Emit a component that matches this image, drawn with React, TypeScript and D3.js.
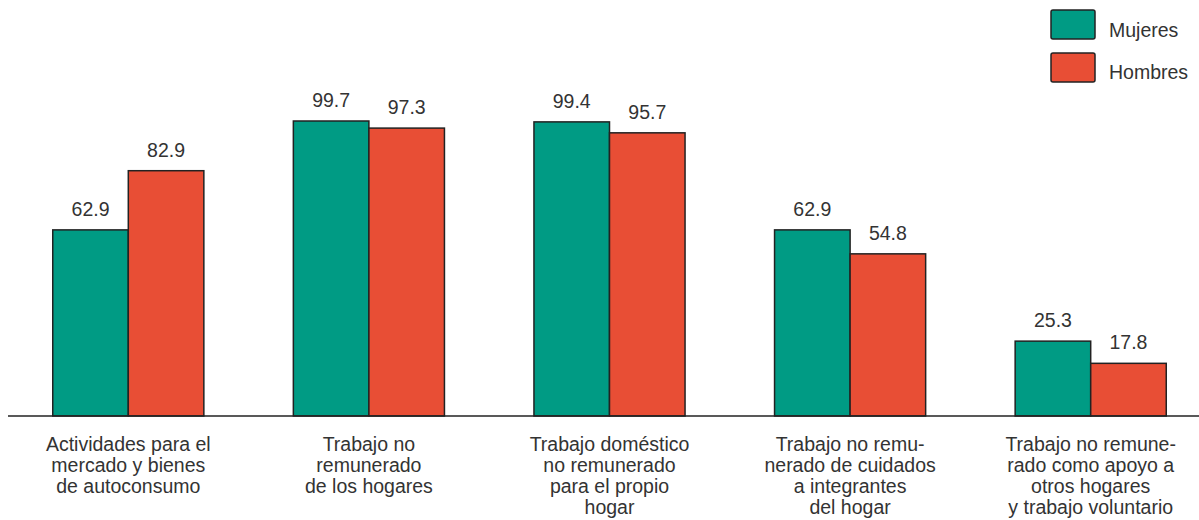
import React from "react";
import * as d3 from "d3";

const categories = [
  "Actividades para el mercado y bienes de autoconsumo",
  "Trabajo no remunerado de los hogares",
  "Trabajo doméstico no remunerado para el propio hogar",
  "Trabajo no remunerado de cuidados a integrantes del hogar",
  "Trabajo no remunerado como apoyo a otros hogares y trabajo voluntario",
];
const categoryLines = [
  ["Actividades para el", "mercado y bienes", "de autoconsumo"],
  ["Trabajo no", "remunerado", "de los hogares"],
  ["Trabajo doméstico", "no remunerado", "para el propio", "hogar"],
  ["Trabajo no remu-", "nerado de cuidados", "a integrantes", "del hogar"],
  ["Trabajo no remune-", "rado como apoyo a", "otros hogares", "y trabajo voluntario"],
];
const seriesNames = ["Mujeres", "Hombres"];
const mujeres = [62.9, 99.7, 99.4, 62.9, 25.3];
const hombres = [82.9, 97.3, 95.7, 54.8, 17.8];
const colors = ["#009B84", "#E84E35"];

const W = 1199;
const H = 520;
const baseY = 416;

export default function App() {
  const x = d3
    .scaleBand<string>()
    .domain(categories)
    .range([8, 1211])
    .paddingInner(0.372)
    .paddingOuter(0.186);
  const xs = d3.scaleBand<string>().domain(seriesNames).range([0, x.bandwidth()]);
  const y = d3.scaleLinear().domain([0, 99.7]).range([baseY, 121]);
  const series = [mujeres, hombres];
  const font = "'Liberation Sans', Arial, sans-serif";
  const textColor = "#333";
  const fs = 19.5;

  return (
    <svg
      width={W}
      height={H}
      style={{ position: "absolute", left: 0, top: 0, background: "#fff" }}
      fontFamily={font}
    >
      {categories.map((c, i) => (
        <g key={c}>
          {series.map((s, j) => {
            const bx = (x(c) ?? 0) + (xs(seriesNames[j]) ?? 0);
            const by = y(s[i]);
            return (
              <g key={j}>
                <rect
                  x={bx}
                  y={by}
                  width={xs.bandwidth()}
                  height={baseY - by}
                  fill={colors[j]}
                  stroke="#222"
                  strokeWidth={1.5}
                />
                <text
                  x={bx + xs.bandwidth() / 2}
                  y={by - 14}
                  textAnchor="middle"
                  fontSize={fs}
                  fill={textColor}
                >
                  {s[i].toFixed(1)}
                </text>
              </g>
            );
          })}
          {categoryLines[i].map((ln, k) => (
            <text
              key={k}
              x={(x(c) ?? 0) + x.bandwidth() / 2}
              y={451 + k * 21}
              textAnchor="middle"
              fontSize={fs}
              fill={textColor}
            >
              {ln}
            </text>
          ))}
        </g>
      ))}
      <line x1={8} x2={1199} y1={baseY} y2={baseY} stroke="#222" strokeWidth={1.5} />
      {seriesNames.map((n, j) => (
        <g key={n}>
          <rect
            x={1051}
            y={10 + j * 43}
            width={44}
            height={29}
            fill={colors[j]}
            stroke="#222"
            strokeWidth={1.5}
            rx={2}
          />
          <text x={1109} y={37 + j * 42} fontSize={fs} fill={textColor}>
            {n}
          </text>
        </g>
      ))}
    </svg>
  );
}
